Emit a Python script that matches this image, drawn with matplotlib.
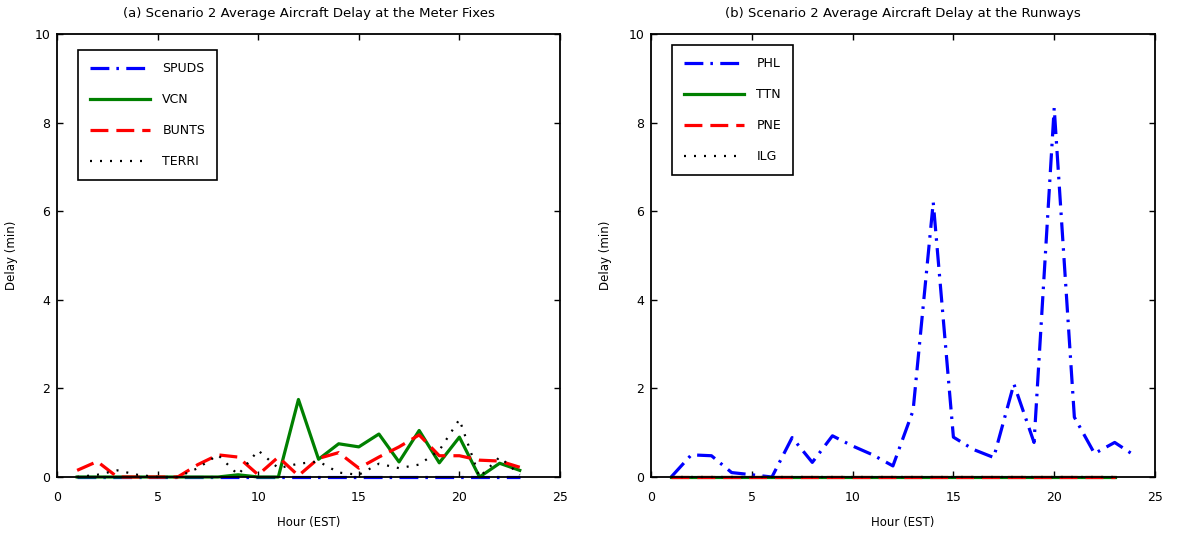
import matplotlib
matplotlib.use("Agg")
import matplotlib.pyplot as plt

# hours for each series
hours = list(range(1, 24))
hours_phl = list(range(1, 25))

# (a) meter fixes
spuds = [0.0] * 23
vcn = [0, 0, 0, 0, 0, 0, 0, 0, 0.05, 0, 0, 1.75, 0.4, 0.75, 0.68, 0.97, 0.34, 1.05, 0.32, 0.9, 0, 0.31, 0.15]
bunts = [0.15, 0.35, 0, 0, 0, 0, 0.28, 0.5, 0.45, 0.05, 0.45, 0.03, 0.42, 0.55, 0.2, 0.45, 0.68, 0.95, 0.48, 0.48, 0.38, 0.36, 0.22]
terri = [0, 0.05, 0.15, 0.05, 0, 0, 0.2, 0.5, 0.05, 0.6, 0.2, 0.3, 0.35, 0.1, 0.05, 0.3, 0.2, 0.28, 0.6, 1.3, 0, 0.45, 0.05]

# (b) runways
phl = [0, 0.5, 0.48, 0.1, 0.05, 0, 0.89, 0.33, 0.93, 0.7, 0.5, 0.25, 1.5, 6.2, 0.9, 0.62, 0.44, 2.1, 0.78, 8.33, 1.35, 0.53, 0.78, 0.48]
ttn = [0.0] * 23
pne = [0.0] * 23
ilg = [0.0] * 23

BLUE = (0, 0, 1)
GREEN = (0, 0.5, 0)
RED = (1, 0, 0)
BLACK = (0, 0, 0)

DASHDOT = (0, (5.9, 2.2, 0.8, 2.3))
DASHED = (0, (5.6, 2.5))
DOTTED = (0, (0.9, 3.6))

plt.rcParams['font.family'] = ['DejaVu Sans']

fig = plt.figure(figsize=(11.88, 5.37), dpi=100)
W, H = 1188, 537
ax1 = fig.add_axes([57 / W, 1 - 477 / H, 503 / W, 443 / H])
ax2 = fig.add_axes([651 / W, 1 - 477 / H, 504 / W, 443 / H])


def style(ax, title):
    ax.set_xlim(0, 25)
    ax.set_ylim(0, 10)
    ax.set_xticks([0, 5, 10, 15, 20, 25])
    ax.set_yticks([0, 2, 4, 6, 8, 10])
    ax.tick_params(direction='in', top=True, right=True, length=4, width=1, labelsize=9)
    ax.tick_params(axis='x', pad=10)
    ax.tick_params(axis='y', pad=5)
    for s in ax.spines.values():
        s.set_linewidth(1.3)
    ax.set_title(title, fontsize=9.5, pad=12)
    ax.set_xlabel('Hour (EST)', fontsize=8.5, labelpad=9)
    ax.set_ylabel('Delay (min)', fontsize=8.5, labelpad=12)


lw = 2.3
ax1.plot(hours, spuds, color=BLUE, lw=lw, linestyle=DASHDOT, label='SPUDS', clip_on=False)
ax1.plot(hours, vcn, color=GREEN, lw=lw, linestyle='-', label='VCN', clip_on=False)
ax1.plot(hours, bunts, color=RED, lw=lw, linestyle=DASHED, label='BUNTS', clip_on=False)
ax1.plot(hours, terri, color=BLACK, lw=1.6, linestyle=DOTTED, label='TERRI', clip_on=False)
style(ax1, '(a) Scenario 2 Average Aircraft Delay at the Meter Fixes')

ax2.plot(hours_phl, phl, color=BLUE, lw=lw, linestyle=DASHDOT, label='PHL', clip_on=False)
ax2.plot(hours, ttn, color=GREEN, lw=lw, linestyle='-', label='TTN', clip_on=False)
ax2.plot(hours, pne, color=RED, lw=lw, linestyle=DASHED, label='PNE', clip_on=False)
ax2.plot(hours, ilg, color=BLACK, lw=1.6, linestyle=DOTTED, label='ILG', clip_on=False)
style(ax2, '(b) Scenario 2 Average Aircraft Delay at the Runways')

for ax, anchor in ((ax1, (21 / 503, 1 - 16 / 443)), (ax2, (21 / 504, 1 - 11 / 443))):
    leg = ax.legend(loc='upper left', bbox_to_anchor=anchor, fontsize=9,
                    frameon=True, fancybox=False, edgecolor='black', framealpha=1,
                    handlelength=4.8, handletextpad=1.0, labelspacing=1.45,
                    borderpad=0.95, borderaxespad=0)
    leg.get_frame().set_linewidth(1.2)

fig.savefig('out.png', dpi=100)
